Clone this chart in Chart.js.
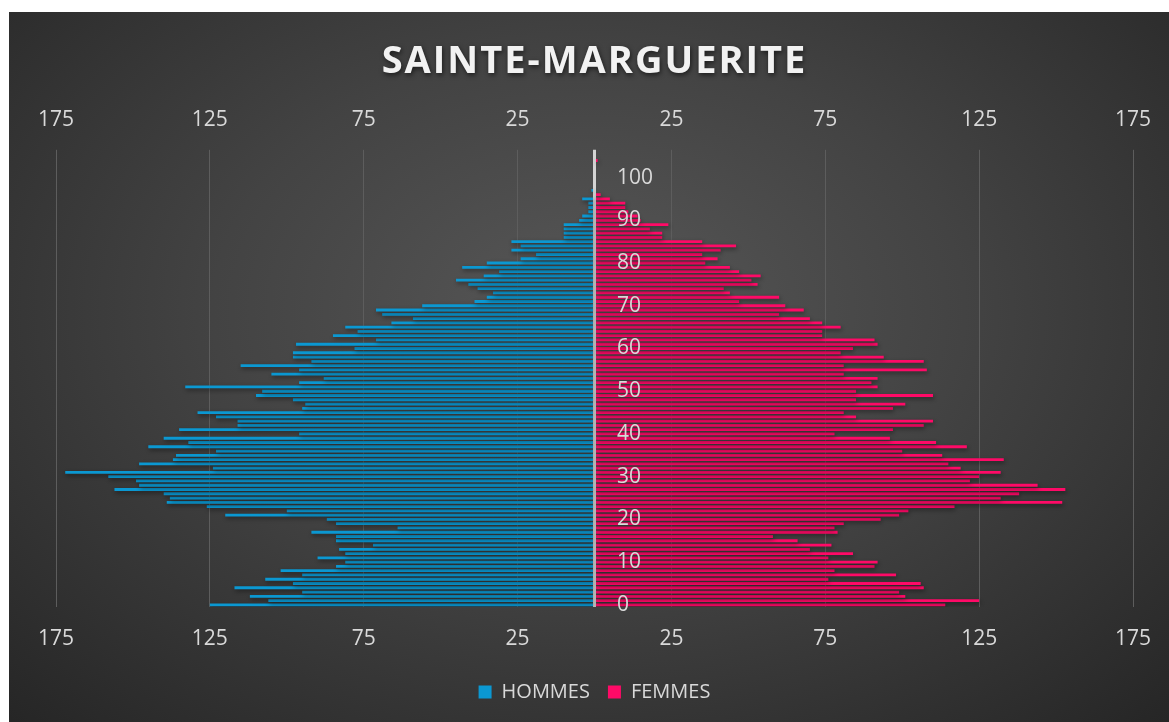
<!DOCTYPE html>
<html>
<head>
<meta charset="utf-8">
<script src="https://cdn.jsdelivr.net/npm/chart.js@4/dist/chart.umd.min.js"></script>
<style>
  html, body { margin: 0; padding: 0; background: #ffffff; }
  #wrap {
    position: absolute; left: 9px; top: 12px; width: 1160px; height: 710px;
    background: radial-gradient(ellipse 72% 80% at 50% 42%, #575757 0%, #434343 45%, #262626 100%);
  }
</style>
</head>
<body>
<div id="wrap"><canvas id="chart" width="1160" height="710"></canvas></div>
<script>
// data
const ages = [];
for (let a = 0; a <= 106; a++) ages.push(String(a));

const hommes = [
  125, 106, 112, 95, 117, 98, 107, 95, 102, 84,
  81, 90, 81, 83, 72, 84, 84, 92, 64, 84,
  87, 120, 100, 126, 139, 138, 140, 156, 148, 149,
  158, 172, 124, 148, 137, 136, 123, 145, 132, 140,
  96, 135, 116, 116, 123, 129, 95, 94, 98, 110,
  108, 133, 96, 88, 105, 96, 115, 92, 98, 98,
  78, 97, 71, 85, 77, 81, 66, 59, 69, 71,
  56, 39, 35, 33, 38, 41, 45, 36, 31, 43,
  35, 24, 19, 27, 24, 27, 10, 10, 10, 10,
  5, 4, 2, 2, 2, 4, 0, 1, 0, 0,
  0, 0, 0, 0, 0, 0, 0
];
const femmes = [
  114, 125, 101, 99, 107, 106, 76, 98, 78, 91,
  92, 76, 84, 70, 77, 66, 58, 79, 78, 81,
  93, 99, 102, 117, 152, 132, 138, 153, 144, 122,
  125, 132, 119, 115, 133, 113, 100, 121, 111, 96,
  78, 97, 107, 110, 85, 81, 97, 101, 85, 110,
  85, 92, 90, 92, 81, 108, 81, 107, 94, 80,
  84, 92, 91, 74, 74, 80, 74, 70, 60, 68,
  62, 47, 60, 44, 42, 53, 51, 54, 47, 44,
  36, 40, 35, 41, 46, 35, 22, 22, 18, 24,
  15, 14, 11, 10, 10, 5, 2, 0, 0, 0,
  0, 0, 0, 0, 1, 0, 0
];
const xTicks = [-175, -125, -75, -25, 25, 75, 125, 175];

const textColor = '#d9d9d9';
const fontName = "'Open Sans', 'DejaVu Sans', sans-serif";

// shadow under the bars, like the excel outer shadow
const barShadow = {
  id: 'barShadow',
  beforeDatasetsDraw(chart) {
    const c = chart.ctx;
    c.save();
    c.shadowColor = 'rgba(0,0,0,0.45)';
    c.shadowBlur = 4;
    c.shadowOffsetX = 1;
    c.shadowOffsetY = 2;
  },
  afterDatasetsDraw(chart) {
    chart.ctx.restore();
  }
};

// spaced letters + shadow for the title only
const titleStyle = {
  id: 'titleStyle',
  beforeDraw(chart) {
    const tb = chart.titleBlock;
    if (tb && !tb._styled) {
      const orig = tb.draw.bind(tb);
      tb.draw = function () {
        const c = chart.ctx;
        c.save();
        c.letterSpacing = '2px';
        c.shadowColor = 'rgba(0,0,0,0.6)';
        c.shadowBlur = 5;
        c.shadowOffsetX = 1;
        c.shadowOffsetY = 2;
        orig();
        c.restore();
      };
      tb._styled = true;
    }
  }
};

// bottom axis also gets a tick at 0 so its grid line becomes the white centre line
const setTicks = scale => { scale.ticks = xTicks.map(v => ({value: v})); };
const setTicksWithZero = scale => { scale.ticks = xTicks.concat([0]).map(v => ({value: v})); };

// age labels sit right of the centre line: mirrored ticks pushed over by the padding,
// the axis itself takes no room
const flatAxis = s => {
  s.width = 0;
  s.paddingTop = 0;
  s.paddingBottom = 0;
  s.paddingLeft = 0;
  s.paddingRight = 0;
};

const ctx = document.getElementById('chart');
const chart = new Chart(ctx, {
  type: 'bar',
  data: {
    labels: ages,
    datasets: [
      {
        label: 'HOMMES',
        data: hommes.map(v => -v),
        backgroundColor: '#0b98d2',
        borderWidth: 0,
        barPercentage: 0.66,
        categoryPercentage: 1,
        xAxisID: 'x'
      },
      {
        label: 'FEMMES',
        data: femmes,
        backgroundColor: '#ff0a67',
        borderWidth: 0,
        barPercentage: 0.66,
        categoryPercentage: 1,
        xAxisID: 'x'
      }
    ]
  },
  options: {
    indexAxis: 'y',
    responsive: false,
    animation: false,
    layout: { padding: { top: 10, left: 47, right: 36, bottom: 10 } },
    scales: {
      x: {
        position: 'bottom',
        min: -175, max: 175,
        stacked: true,
        afterBuildTicks: setTicksWithZero,
        afterFit: s => { s.height = 57; },
        grid: {
          drawTicks: false,
          color: c => (c.tick && c.tick.value === 0) ? '#d4d4d4' : '#5d5d5d',
          lineWidth: c => (c.tick && c.tick.value === 0) ? 3 : 1
        },
        border: { display: false },
        ticks: {
          color: textColor, padding: 19,
          font: { family: fontName, size: 21 },
          callback: v => v === 0 ? '' : Math.abs(v)
        }
      },
      x2: {
        position: 'top',
        min: -175, max: 175,
        afterBuildTicks: setTicks,
        grid: { display: false, drawTicks: false },
        border: { display: false },
        ticks: {
          color: textColor, padding: 17,
          font: { family: fontName, size: 21 },
          callback: v => Math.abs(v)
        }
      },
      y: {
        type: 'category',
        reverse: true,
        stacked: true,
        position: 'left',
        afterFit: flatAxis,
        grid: { display: false, drawTicks: false },
        border: { display: false },
        ticks: {
          z: 1,
          autoSkip: false,
          mirror: true,
          color: textColor, padding: 561,
          font: { family: fontName, size: 21 },
          callback: function (v, i) {
            const a = ages[i];
            return Number(a) % 10 === 0 ? a : '';
          }
        }
      }
    },
    plugins: {
      title: {
        display: true,
        text: 'SAINTE-MARGUERITE',
        color: '#f2f2f2',
        font: { family: fontName, size: 38, weight: 'bold' },
        padding: { top: 17, bottom: 6 }
      },
      legend: {
        position: 'bottom',
        labels: {
          color: textColor,
          boxWidth: 13, boxHeight: 13,
          padding: 18,
          font: { family: fontName, size: 20 }
        }
      },
      tooltip: { enabled: false }
    }
  },
  plugins: [barShadow, titleStyle]
});
chart.draw();
</script>
</body>
</html>
